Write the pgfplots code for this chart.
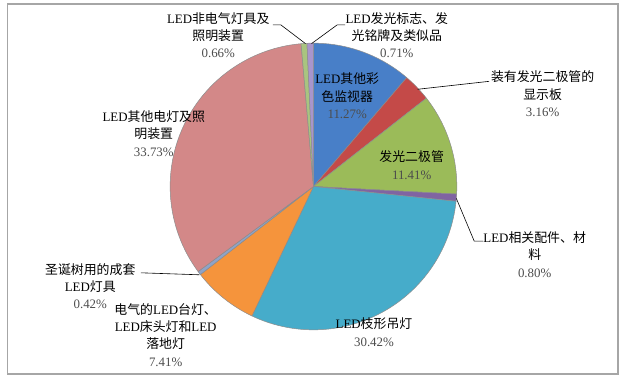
\documentclass[border=0pt]{standalone}
\usepackage{pgfplots}
\pgfplotsset{compat=1.18}
\usepackage{pgfplotstable}
\usepackage{fontspec}
\setmainfont{Liberation Serif}
\newfontfamily\cjk{Noto Sans CJK SC}
\newcommand\zh[1]{{\cjk #1}}
\newcommand\pc[1]{{\fontsize{13}{17}\selectfont\color{black!70}#1}}

\definecolor{c0}{RGB}{72,127,200}
\definecolor{c1}{RGB}{196,74,72}
\definecolor{c2}{RGB}{155,187,89}
\definecolor{c3}{RGB}{128,100,162}
\definecolor{c4}{RGB}{70,172,202}
\definecolor{c5}{RGB}{245,148,60}
\definecolor{c6}{RGB}{143,163,200}
\definecolor{c7}{RGB}{211,136,136}
\definecolor{c8}{RGB}{169,196,127}
\definecolor{c9}{RGB}{168,149,204}

% shares in percent, clockwise from 12 o'clock
\pgfplotstableread{
v
11.27
3.16
11.41
0.80
30.42
7.41
0.42
33.73
0.66
0.71
}\piedata

\begin{document}
\def\cum{90}
\pgfplotsforeachungrouped \i in {0,...,9}{%
  \pgfplotstablegetelem{\i}{v}\of\piedata
  \pgfmathsetmacro\nxt{\cum-3.6*\pgfplotsretval}%
  \expandafter\xdef\csname s\i\endcsname{\cum}%
  \expandafter\xdef\csname e\i\endcsname{\nxt}%
  \xdef\cum{\nxt}%
}
\begin{tikzpicture}
\begin{axis}[x=1pt,y=1pt,xmin=0,xmax=622,ymin=0,ymax=381,
  hide axis, clip=false, anchor=origin, at={(0,0)}]
\path (axis cs:0,0) rectangle (axis cs:622,381);
\draw[color=black!35, line width=1.1pt] (axis cs:3,4) rectangle (axis cs:618,377);
\pgfplotsinvokeforeach{0,...,9}{%
  \addplot[fill=c#1, draw=black!45, line width=0.5pt, line join=round,
    domain={\csname e#1\endcsname}:{\csname s#1\endcsname}, samples=60, variable=\t]
    ({311+144.5*cos(\t)},{193+144.5*sin(\t)}) -- (axis cs:311,193) -- cycle;
}
\tikzset{lab/.style={align=center, font=\fontsize{13}{17.5}\selectfont, inner sep=0pt}}
% leader lines
\draw[black, line width=0.6pt] (axis cs:270,356) -- (axis cs:278,356) -- (axis cs:303,337);
\draw[black, line width=0.6pt] (axis cs:343,356) -- (axis cs:335,356) -- (axis cs:309,337);
\draw[black, line width=0.6pt] (axis cs:416,291) -- (axis cs:488,299);
\draw[black, line width=0.6pt] (axis cs:455,181) -- (axis cs:473,138) -- (axis cs:482,138);
\draw[black, line width=0.6pt] (axis cs:137,106) -- (axis cs:196,104);
% labels
\node[lab] at (axis cs:215,345.5) {LED\zh{非电气灯具及}\\\zh{照明装置}\\\pc{0.66\%}};
\node[lab] at (axis cs:395,345.5) {LED\zh{发光标志、发}\\\zh{光铭牌及类似品}\\\pc{0.71\%}};
\node[lab] at (axis cs:345,284.5) {LED\zh{其他彩}\\\zh{色监视器}\\\pc{11.27\%}};
\node[lab] at (axis cs:542,286.5) {\zh{装有发光二极管的}\\\zh{显示板}\\\pc{3.16\%}};
\node[lab] at (axis cs:410,214.5) {\zh{发光二极管}\\\pc{11.41\%}};
\node[lab] at (axis cs:534,124.5) {LED\zh{相关配件、材}\\\zh{料}\\\pc{0.80\%}};
\node[lab] at (axis cs:372,46) {LED\zh{枝形吊灯}\\\pc{30.42\%}};
\node[lab] at (axis cs:162,43.5) {\zh{电气的}LED\zh{台灯、}\\LED\zh{床头灯和}LED\\\zh{落地灯}\\\pc{7.41\%}};
\node[lab] at (axis cs:86,92.5) {\zh{圣诞树用的成套}\\LED\zh{灯具}\\\pc{0.42\%}};
\node[lab] at (axis cs:150,246.5) {LED\zh{其他电灯及照}\\\zh{明装置}\\\pc{33.73\%}};
\end{axis}
\end{tikzpicture}
\end{document}
